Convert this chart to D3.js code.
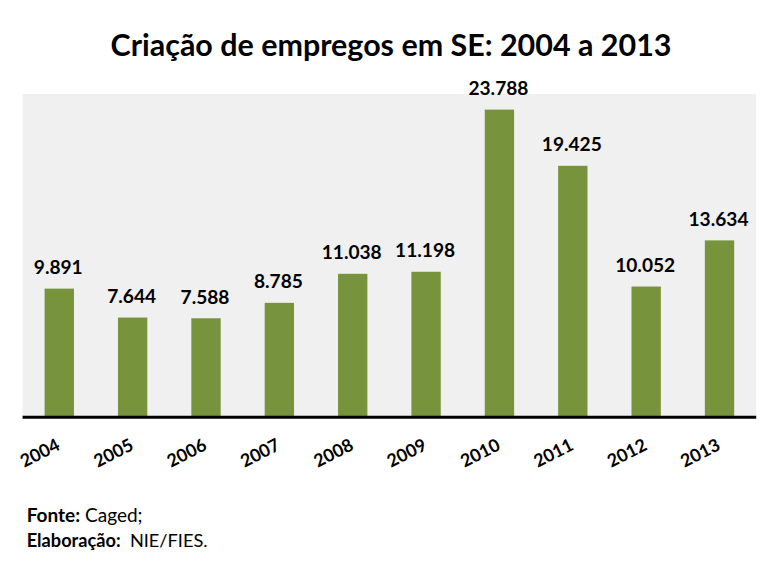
<!DOCTYPE html>
<html><head><meta charset="utf-8">
<script src="https://cdn.jsdelivr.net/npm/d3@7"></script>
<style>body{margin:0;background:#fff}svg{display:block}</style>
</head><body>
<svg id="c" width="781" height="567"></svg>
<script>
const categories = ["2004","2005","2006","2007","2008","2009","2010","2011","2012","2013"];
const values = [9891,7644,7588,8785,11038,11198,23788,19425,10052,13634];
const valueLabels = ["9.891","7.644","7.588","8.785","11.038","11.198","23.788","19.425","10.052","13.634"];
const titleText = "Criação de empregos em SE: 2004 a 2013";

const FONT = "Lato, 'Open Sans', sans-serif";
const svg = d3.select("#c");
const plot = {left:22.6, right:756.2, top:94, bottom:416};

const x = d3.scaleBand().domain(categories).range([plot.left, plot.right]).paddingInner(0).paddingOuter(0);
const y = d3.scaleLinear().domain([0,25000]).range([plot.bottom, plot.top]);

function fit(sel, target){
  const w = sel.node().getComputedTextLength();
  const fs = parseFloat(sel.attr("font-size"));
  sel.attr("font-size", fs*target/w);
}

svg.append("rect").attr("x",plot.left).attr("y",plot.top)
  .attr("width",plot.right-plot.left).attr("height",plot.bottom-plot.top).attr("fill","#f0f0f0");

const bw = x.bandwidth()*0.4;
svg.selectAll("rect.bar").data(values).join("rect").attr("class","bar")
  .attr("x",(d,i)=>x(categories[i])+x.bandwidth()/2-bw/2)
  .attr("width",bw)
  .attr("y",d=>y(d))
  .attr("height",d=>y(0)-y(d))
  .attr("fill","#77933c");

// value labels
const lbls = svg.selectAll("text.val").data(values).join("text").attr("class","val")
  .attr("x",(d,i)=>x(categories[i])+x.bandwidth()/2-1)
  .attr("y",d=>y(d)-14.5)
  .attr("text-anchor","middle").attr("font-family",FONT).attr("font-weight","bold")
  .attr("font-size",20).attr("fill","#000")
  .text((d,i)=>valueLabels[i]);
{
  const n = lbls.filter((d,i)=>i===6);
  const w = n.node().getComputedTextLength();
  lbls.attr("font-size", 20*60/w);
}

// axis
const xAxis = d3.axisBottom(x).tickSize(0).tickPadding(0);
const ax = svg.append("g").attr("transform",`translate(0,${plot.bottom})`).call(xAxis);
ax.select(".domain").attr("stroke","#000").attr("stroke-width",3).attr("d",`M${plot.left},1.2H${plot.right}`);
ax.selectAll(".tick text")
  .attr("font-family",FONT).attr("font-weight","bold").attr("font-size",19).attr("fill","#000")
  .attr("text-anchor","end").attr("dy",null).attr("y",0)
  .attr("transform","translate(2,33) rotate(-27)");
{
  const t = ax.select(".tick text");
  const w = t.node().getComputedTextLength();
  ax.selectAll(".tick text").attr("font-size", 19*41.5/w);
}

// title
const tt = svg.append("text").attr("x",391).attr("y",56).attr("text-anchor","middle")
  .attr("font-family",FONT).attr("font-weight","bold").attr("font-size",28).attr("fill","#000").text(titleText);
fit(tt,561);

// footer
const f1 = svg.append("text").attr("x",26.7).attr("y",522).attr("font-family",FONT).attr("font-size",16).attr("fill","#000");
f1.append("tspan").attr("font-weight","bold").text("Fonte:");
f1.append("tspan").text(" Caged;");
fit(f1,116);
const f2 = svg.append("text").attr("x",26.7).attr("y",547).attr("font-family",FONT).attr("font-size",16).attr("fill","#000");
f2.attr("xml:space","preserve");
f2.append("tspan").attr("font-weight","bold").text("Elaboração:");
f2.append("tspan").text("  NIE/FIES.");
fit(f2,181);
</script>
</body></html>
